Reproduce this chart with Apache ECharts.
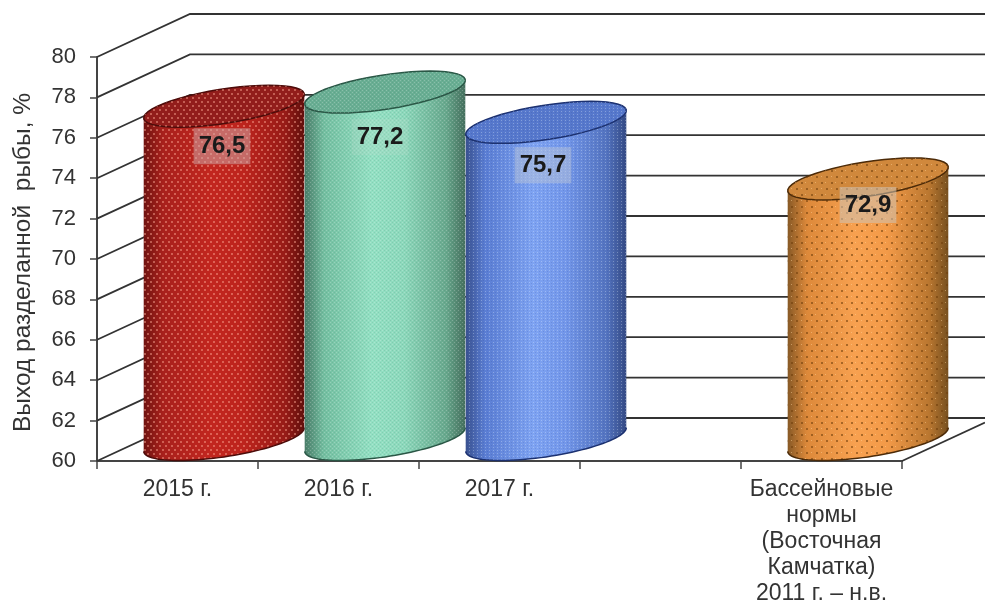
<!DOCTYPE html>
<html>
<head>
<meta charset="utf-8">
<style>html,body{margin:0;padding:0;background:#fff}#c{width:985px;height:603px}</style>
<script src="https://cdn.jsdelivr.net/npm/echarts@6/dist/echarts.min.js"></script>
</head>
<body>
<div id="c"></div>
<script>
var categories = ['2015 г.', '2016 г.', '2017 г.', '', 'Бассейновые\nнормы\n(Восточная\nКамчатка)\n2011 г. – н.в.'];
var values = [76.5, 77.2, 75.7, null, 72.9];
var yTicks = [60, 62, 64, 66, 68, 70, 72, 74, 76, 78, 80];
var yAxisTitle = 'Выход разделанной  рыбы, %';

var FONT = '"Liberation Sans", Arial, sans-serif';
var DEPTH = [93, -43];
var ELLIPSE = { r: 66.5, dx: 45, dy: -21 };

function dotPattern(size, dots) {
  var cv = document.createElement('canvas');
  cv.width = size[0]; cv.height = size[1];
  var g = cv.getContext('2d');
  dots.forEach(function (d) {
    g.fillStyle = d[3];
    g.fillRect(d[0], d[1], d[2], d[2]);
  });
  return { image: cv, repeat: 'repeat' };
}
var looks = [
  { body: ['#701310', '#a8201c', '#c2261f', '#bd241d', '#971b17', '#600f0c'], top: '#921d1b', line: '#4d0c0a',
    pat: dotPattern([6, 8], [[0, 1, 2, 'rgba(255,170,150,.45)'], [3, 5, 2, 'rgba(255,170,150,.45)']]),
    label: [-2, 40], box: 'rgba(205,175,175,.5)' },
  { body: ['#4a7d69', '#74bfa1', '#93e0c3', '#8cd8bb', '#68a88d', '#456f5d'], top: '#69ae93', line: '#2a5746',
    pat: dotPattern([4, 4], [[0, 0, 1, 'rgba(255,255,255,.22)'], [2, 2, 1, 'rgba(255,255,255,.22)'], [2, 0, 1, 'rgba(30,90,70,.12)'], [0, 2, 1, 'rgba(30,90,70,.12)']]),
    label: [-5, 45], box: 'rgba(190,220,205,.2)' },
  { body: ['#3a5290', '#5a7dd3', '#7ea3f2', '#7397ea', '#5373bf', '#344a84'], top: '#5678cc', line: '#1c3170',
    pat: dotPattern([4, 3], [[1, 0, 1, 'rgba(235,245,255,.3)'], [3, 1, 1, 'rgba(30,50,120,.15)']]),
    label: [-3, 43], box: 'rgba(190,200,215,.45)' },
  null,
  { body: ['#875926', '#dd893a', '#f8a150', '#f39a48', '#ba7730', '#765020'], top: '#d0883c', line: '#4b2a08',
    pat: dotPattern([10, 12], [[1, 2, 2, 'rgba(110,60,10,.55)'], [6, 8, 2, 'rgba(110,60,10,.55)'], [5, 2, 1, 'rgba(255,215,160,.45)'], [1, 8, 1, 'rgba(255,215,160,.45)']]),
    label: [0, 26], box: 'rgba(205,195,180,.55)' }
];

var chart = echarts.init(document.getElementById('c'), null, { renderer: 'canvas' });

function wallItem(params, api) {
  var cs = params.coordSys;
  var y = api.coord([0, api.value(1)])[1];
  var x0 = cs.x, bx = x0 + DEPTH[0], by = y + DEPTH[1];
  var ls = { stroke: '#333', lineWidth: 1.8, fill: 'none' };
  var kids = [
    { type: 'polyline', shape: { points: [[x0, y], [bx, by], [985, by]] }, style: ls }
  ];
  if (params.dataIndex === 0) {
    var xr = cs.x + cs.width;
    var k = (985 - xr) / DEPTH[0];
    kids.push({ type: 'line', shape: { x1: xr, y1: y, x2: 985, y2: y + DEPTH[1] * k }, style: ls });
  }
  return { type: 'group', children: kids };
}

function ell(c, t) {
  return [c[0] + ELLIPSE.r * Math.cos(t) + ELLIPSE.dx * Math.sin(t), c[1] + ELLIPSE.dy * Math.sin(t)];
}
function arc(c, a, b) {
  var pts = [], n = 48;
  for (var i = 0; i <= n; i++) pts.push(ell(c, a + (b - a) * i / n));
  return pts;
}
function cylinderItem(params, api) {
  var idx = api.value(0), val = api.value(1), look = looks[idx];
  var shift = [DEPTH[0] / 2, DEPTH[1] / 2];
  var base = api.coord([idx, yTicks[0]]), top = api.coord([idx, val]);
  var cb = [base[0] + shift[0], base[1] + shift[1]];
  var ct = [top[0] + shift[0], top[1] + shift[1]];
  var t0 = Math.atan2(ELLIPSE.dx, ELLIPSE.r);
  var bottomArc = arc(cb, t0 + Math.PI, t0 + 2 * Math.PI);
  var bodyPts = bottomArc.concat(arc(ct, t0, t0 + Math.PI));
  var topPts = arc(ct, 0, 2 * Math.PI);
  var stops = look.body, offs = [0, 0.12, 0.42, 0.62, 0.88, 1];
  var grad = { type: 'linear', x: 0, y: 0, x2: 1, y2: 0, global: false,
    colorStops: stops.map(function (c, i) { return { offset: offs[i], color: c }; }) };
  var z = params.dataIndex * 10;
  return { type: 'group', children: [
    { type: 'polygon', z2: z, shape: { points: bodyPts }, style: { fill: grad } },
    { type: 'polygon', z2: z + 1, shape: { points: bodyPts }, style: { fill: look.pat } },
    { type: 'polyline', z2: z + 2, shape: { points: bottomArc }, style: { fill: 'none', stroke: look.line, lineWidth: 1.5 } },
    { type: 'polygon', z2: z + 3, shape: { points: topPts }, style: { fill: look.top, stroke: look.line, lineWidth: 1.5 } },
    { type: 'polygon', z2: z + 4, shape: { points: topPts }, style: { fill: look.pat } },
    { type: 'text', z2: 100, x: ct[0] + look.label[0], y: ct[1] + look.label[1], style: {
      text: String(val).replace('.', ','), fontFamily: FONT, fontSize: 24, fontWeight: 'bold', fill: '#1a1a1a',
      align: 'center', verticalAlign: 'middle', backgroundColor: look.box, padding: [6, 5]
    } }
  ] };
}

var barData = [];
values.forEach(function (v, i) { if (v !== null) barData.push([i, v]); });

chart.setOption({
  animation: false,
  backgroundColor: '#fff',
  grid: { left: 97, right: 83, top: 57, bottom: 142, containLabel: false, outerBoundsMode: 'none' },
  xAxis: {
    type: 'category', data: categories,
    axisLine: { lineStyle: { color: '#444', width: 2 } },
    axisTick: { show: true, length: 8, lineStyle: { color: '#444', width: 1.5 }, alignWithLabel: false },
    axisLabel: { interval: 0, color: '#333', fontFamily: FONT, fontSize: 23, lineHeight: 26, margin: 16 }
  },
  yAxis: {
    type: 'value', min: yTicks[0], max: yTicks[yTicks.length - 1], interval: 2,
    name: yAxisTitle, nameLocation: 'middle', nameGap: 61, nameRotate: 90,
    nameTextStyle: { color: '#333', fontFamily: FONT, fontSize: 24.5, padding: [0, 7, 0, 0] },
    axisLine: { show: true, lineStyle: { color: '#444', width: 2 } },
    axisTick: { show: true, length: 7, lineStyle: { color: '#444', width: 1.5 } },
    axisLabel: { color: '#333', fontFamily: FONT, fontSize: 22, margin: 21 },
    splitLine: { show: false }
  },
  series: [
    { type: 'custom', z: 1, clip: false, coordinateSystem: 'cartesian2d', renderItem: wallItem,
      data: yTicks.map(function (t) { return [0, t]; }), encode: { x: 0, y: 1 }, silent: true },
    { type: 'custom', z: 3, clip: false, coordinateSystem: 'cartesian2d', renderItem: cylinderItem,
      data: barData, encode: { x: 0, y: 1 } }
  ]
});
</script>
</body>
</html>
